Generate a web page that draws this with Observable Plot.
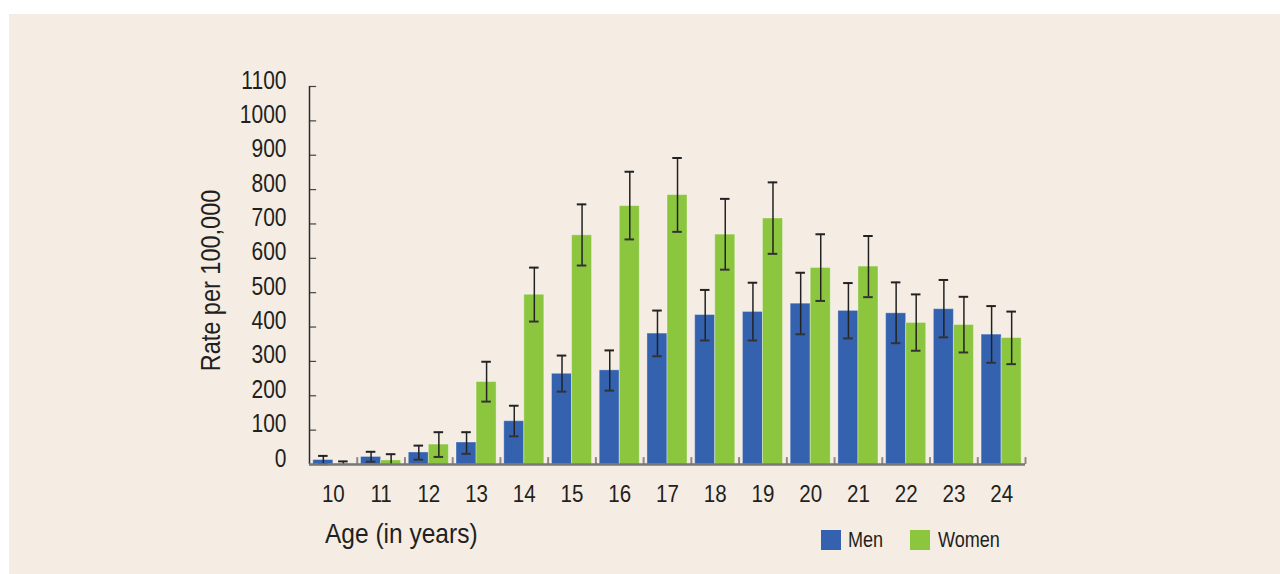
<!DOCTYPE html>
<html>
<head>
<meta charset="utf-8">
<script src="https://cdn.jsdelivr.net/npm/d3@7"></script>
<script src="https://cdn.jsdelivr.net/npm/@observablehq/plot@0.6"></script>
<style>
  html, body { margin: 0; padding: 0; background: #ffffff; }
  body { width: 1280px; height: 574px; position: relative; overflow: hidden;
         font-family: "Liberation Sans", Arial, sans-serif; color: #231f20; }
  #panel { position: absolute; left: 9px; top: 14px; width: 1271px; height: 560px; background: #F5EDE4; }
  #chart { position: absolute; left: 0; top: 0; }
  #below { position: absolute; left: 0; top: 515px; width: 1280px; height: 59px; }
  #xtitle { position: absolute; left: 325px; top: 2px; font-size: 28.5px; line-height: 32px; white-space: nowrap;
            transform: scaleX(0.86); transform-origin: 0 50%; }
  .sw { position: absolute; width: 20px; height: 20px; top: 15px; }
  .lt { position: absolute; top: 11px; font-size: 21.5px; line-height: 28px; white-space: nowrap;
        transform: scaleX(0.84); transform-origin: 0 50%; }
</style>
</head>
<body>
<div id="panel"></div>
<div id="chart"></div>
<div id="below"></div>
<script>
// ---- data ----
const ages = [10, 11, 12, 13, 14, 15, 16, 17, 18, 19, 20, 21, 22, 23, 24];
const men       = [13, 22, 35, 64, 126, 264, 274, 381, 435, 444, 468, 447, 440, 452, 378];
const menLow    = [1, 8, 14, 31, 82, 212, 215, 315, 361, 361, 379, 367, 353, 370, 296];
const menHigh   = [25, 37, 55, 94, 171, 317, 332, 448, 508, 529, 558, 528, 530, 537, 461];
const women     = [2, 12, 58, 240, 494, 667, 752, 784, 669, 716, 572, 576, 412, 406, 368];
const womenLow  = [0, 0, 22, 183, 416, 579, 655, 677, 567, 613, 476, 487, 331, 326, 292];
const womenHigh = [9, 30, 94, 299, 573, 757, 852, 892, 773, 821, 670, 665, 495, 488, 445];
const series = ["Men", "Women"];
const colors = ["#3462AF", "#8CC63F"];
const yTicks = [0, 100, 200, 300, 400, 500, 600, 700, 800, 900, 1000, 1100];
const yTitle = "Rate per 100,000";
const xTitle = "Age (in years)";

// ---- table built from the arrays ----
const rows = ages.flatMap((a, i) => [
  {age: a, sex: "Men", value: men[i], lo: menLow[i], hi: menHigh[i]},
  {age: a, sex: "Women", value: women[i], lo: womenLow[i], hi: womenHigh[i]}
]);
const boundaries = ages.map(a => a + 0.5);
const xDomain = [ages[0] - 0.5, ages[ages.length - 1] + 0.5];
const bw = 0.42;   // bar width in age units
const cap = 0.1;   // half cap width in age units
const x1 = d => d.sex === "Men" ? d.age - bw : d.age;
const x2 = d => d.sex === "Men" ? d.age : d.age + bw;
const xc = d => d.sex === "Men" ? d.age - bw / 2 : d.age + bw / 2;

const condense = 0.84; // horizontal squeeze to imitate a condensed face

const chart = Plot.plot({
  width: 1280,
  height: 515,
  marginLeft: 309,
  marginRight: 255,
  marginTop: 86,
  marginBottom: 51,
  style: {background: "transparent", fontFamily: '"Liberation Sans", Arial, sans-serif', color: "#231f20", overflow: "visible"},
  x: {domain: xDomain},
  y: {domain: [yTicks[0], yTicks[yTicks.length - 1]]},
  color: {domain: series, range: colors},
  marks: [
    Plot.rectY(rows, {x1, x2, y: "value", fill: "sex", stroke: "#ffffff", strokeOpacity: 0.35, strokeWidth: 1}),
    Plot.ruleX(rows, {x: xc, y1: "lo", y2: "hi", stroke: "#222222", strokeWidth: 1.5}),
    Plot.ruleY(rows, {x1: d => xc(d) - cap, x2: d => xc(d) + cap, y: "hi", stroke: "#222222", strokeWidth: 2}),
    Plot.ruleY(rows.filter(d => d.lo > 0), {x1: d => xc(d) - cap, x2: d => xc(d) + cap, y: "lo", stroke: "#333333", strokeWidth: 2}),
    // inward y ticks
    Plot.ruleY(yTicks, {y: d => d, x1: xDomain[0], x2: xDomain[0] + 0.15, stroke: "#444444", strokeWidth: 1.2}),
    // x group boundary ticks
    Plot.ruleX(boundaries, {x: d => d, y1: 0, y2: 20, stroke: "#8a8a8a", strokeWidth: 2}),
    // axis lines
    Plot.ruleX([xDomain[0]], {stroke: "#2b2b2b", strokeWidth: 1.5}),
    Plot.ruleY([0], {stroke: "#767676", strokeWidth: 2.5}),
    Plot.axisY({ticks: yTicks, tickSize: 0, tickPadding: 23, fontSize: 25, dy: -6, label: null, tickFormat: d => String(d)}),
    Plot.axisX({ticks: ages, tickSize: 0, tickPadding: 20, fontSize: 24.5, label: null, tickFormat: d => String(d)}),
    Plot.text([yTitle], {frameAnchor: "left", textAnchor: "middle", rotate: -90, dx: -98, dy: 5, fontSize: 28, fill: "#231f20"})
  ]
});

// squeeze every text horizontally around its own anchor point
chart.querySelectorAll("text").forEach(t => {
  const x = t.getAttribute("x");
  let tr = t.getAttribute("transform") || "";
  if (x !== null) {
    t.removeAttribute("x");
    tr = `translate(${x},0) ` + tr;
  }
  t.setAttribute("transform", (tr + ` scale(${condense},1)`).trim());
});
document.getElementById("chart").appendChild(chart);

// ---- axis title and legend below the SVG ----
const below = document.getElementById("below");
const xt = document.createElement("div");
xt.id = "xtitle";
xt.textContent = xTitle;
below.appendChild(xt);
const legendPos = [{sw: 821, tx: 848}, {sw: 910, tx: 938}];
series.forEach((s, i) => {
  const sw = document.createElement("div");
  sw.className = "sw";
  sw.style.left = legendPos[i].sw + "px";
  sw.style.background = colors[i];
  below.appendChild(sw);
  const t = document.createElement("div");
  t.className = "lt";
  t.style.left = legendPos[i].tx + "px";
  t.textContent = s;
  below.appendChild(t);
});
</script>
</body>
</html>
